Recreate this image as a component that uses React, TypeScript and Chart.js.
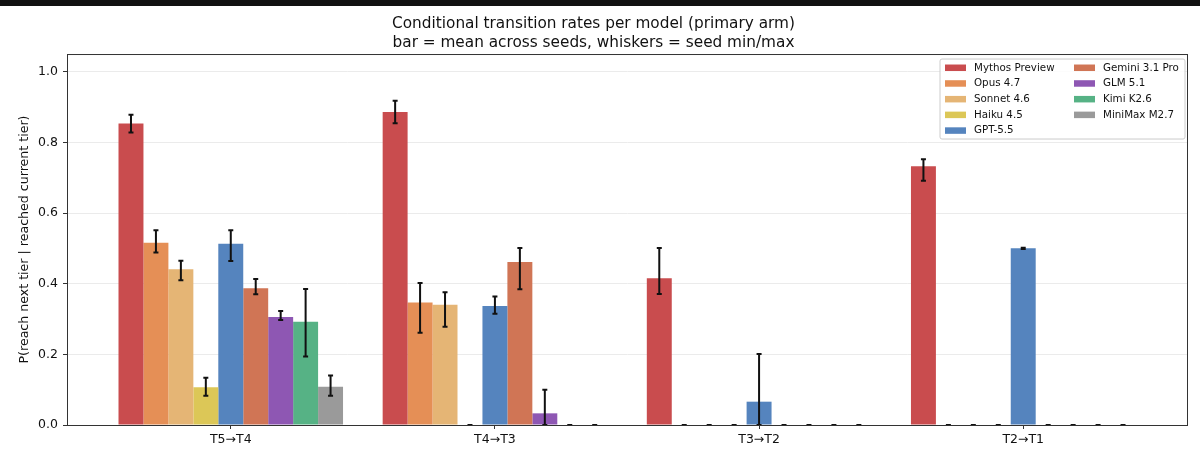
import { useEffect, useRef } from "react"
import { Chart, registerables } from "chart.js"

Chart.register(...registerables)

const FONT = "'DejaVu Sans', Verdana, sans-serif"

const categories = ["T5→T4", "T4→T3", "T3→T2", "T2→T1"]

const models = [
	"Mythos Preview",
	"Opus 4.7",
	"Sonnet 4.6",
	"Haiku 4.5",
	"GPT-5.5",
	"Gemini 3.1 Pro",
	"GLM 5.1",
	"Kimi K2.6",
	"MiniMax M2.7",
]

const colors = ["#c94c4e", "#e58f56", "#e5b575", "#dcc757", "#5584be", "#d07555", "#8e57b3", "#56b285", "#9a9a9a"]

// bar = mean across seeds, one row per model, one column per transition
const meanValues = [
	[0.853, 0.886, 0.415, 0.732],
	[0.516, 0.347, 0, 0],
	[0.441, 0.34, 0, 0],
	[0.107, 0, 0, 0],
	[0.513, 0.337, 0.066, 0.5],
	[0.387, 0.461, 0, 0],
	[0.306, 0.033, 0, 0],
	[0.292, 0, 0, 0],
	[0.108, 0, 0, 0],
]

// whiskers = seed min / max
const minValues = [
	[0.828, 0.854, 0.371, 0.691],
	[0.488, 0.261, 0, 0],
	[0.41, 0.278, 0, 0],
	[0.083, 0, 0, 0],
	[0.464, 0.315, 0, 0.498],
	[0.37, 0.384, 0, 0],
	[0.297, 0, 0, 0],
	[0.194, 0, 0, 0],
	[0.083, 0, 0, 0],
]

const maxValues = [
	[0.878, 0.918, 0.501, 0.752],
	[0.551, 0.402, 0, 0],
	[0.465, 0.376, 0, 0],
	[0.134, 0, 0, 0],
	[0.551, 0.364, 0.201, 0.502],
	[0.413, 0.501, 0, 0],
	[0.323, 0.1, 0, 0],
	[0.385, 0, 0, 0],
	[0.14, 0, 0, 0],
]

const yTicks = [0, 0.2, 0.4, 0.6, 0.8, 1.0]

const errorBars = {
	id: "errorBars",
	afterDatasetsDraw(chart: Chart) {
		const { ctx } = chart
		const y = chart.scales.y
		ctx.save()
		ctx.strokeStyle = "#111"
		ctx.lineWidth = 2
		chart.data.datasets.forEach((_, i) => {
			const meta = chart.getDatasetMeta(i)
			meta.data.forEach((bar: any, j: number) => {
				const x = bar.x
				const lo = y.getPixelForValue(minValues[i][j])
				const hi = y.getPixelForValue(maxValues[i][j])
				ctx.beginPath()
				ctx.moveTo(x, lo)
				ctx.lineTo(x, hi)
				ctx.moveTo(x - 2.5, lo)
				ctx.lineTo(x + 2.5, lo)
				ctx.moveTo(x - 2.5, hi)
				ctx.lineTo(x + 2.5, hi)
				ctx.stroke()
			})
		})
		ctx.restore()
	},
}

const frameAndLegend = {
	id: "frameAndLegend",
	afterDraw(chart: Chart) {
		const { ctx, chartArea } = chart
		ctx.save()
		// top and right spines
		ctx.strokeStyle = "#333"
		ctx.lineWidth = 1
		ctx.strokeRect(chartArea.left + 0.5, chartArea.top + 0.5, chartArea.right - chartArea.left, chartArea.bottom - chartArea.top)

		// legend, two columns, column-major
		const boxW = 245
		const boxH = 80
		const bx = chartArea.right - boxW - 2
		const by = chartArea.top + 5
		ctx.fillStyle = "rgba(255,255,255,0.85)"
		ctx.strokeStyle = "#cccccc"
		ctx.beginPath()
		ctx.roundRect(bx, by, boxW, boxH, 2)
		ctx.fill()
		ctx.stroke()

		ctx.font = `10.3px ${FONT}`
		ctx.textBaseline = "middle"
		const perCol = 5
		models.forEach((name, i) => {
			const col = Math.floor(i / perCol)
			const row = i % perCol
			const px = bx + 5 + col * 129
			const py = by + 8.5 + row * 15.7
			ctx.fillStyle = colors[i]
			ctx.fillRect(px, py - 3, 21, 6.5)
			ctx.fillStyle = "#111"
			ctx.fillText(name, px + 29, py + 0.5)
		})
		ctx.restore()
	},
}

export default function App() {
	const chartRef = useRef<HTMLCanvasElement>(null)
	const chartInstance = useRef<Chart | null>(null)

	useEffect(() => {
		document.body.style.margin = "0"
		if (!chartRef.current) return
		if (chartInstance.current) chartInstance.current.destroy()

		chartInstance.current = new Chart(chartRef.current, {
			type: "bar",
			data: {
				datasets: models.map((name, i) => ({
					label: name,
					data: meanValues[i].map((v, j) => ({ x: j, y: v })),
					backgroundColor: colors[i],
					borderWidth: 0,
					categoryPercentage: 0.85,
					barPercentage: 1,
				})),
			},
			options: {
				animation: false,
				responsive: true,
				maintainAspectRatio: false,
				layout: { padding: { left: 0, right: 13, top: 0, bottom: 0 } },
				plugins: {
					legend: { display: false },
					tooltip: { enabled: false },
					title: {
						display: true,
						text: ["Conditional transition rates per model (primary arm)", "bar = mean across seeds, whiskers = seed min/max"],
						color: "#111",
						font: { family: FONT, size: 15.3, weight: "normal", lineHeight: 1.2 },
						padding: { top: 15, bottom: 2.3 },
					},
				},
				scales: {
					x: {
						type: "linear",
						offset: false,
						min: -0.62,
						max: 3.62,
						afterBuildTicks: (s: any) => {
							s.ticks = categories.map((_, i) => ({ value: i }))
						},
						afterFit: (s: any) => {
							s.height = 33
						},
						ticks: {
							callback: (v: any) => categories[v] ?? "",
							color: "#111",
							font: { family: FONT, size: 12.5 },
							padding: 3,
							autoSkip: false,
							maxRotation: 0,
						},
						grid: { offset: false, drawOnChartArea: false, tickLength: 4, tickColor: "#333" },
						border: { color: "#333" },
					},
					y: {
						min: 0,
						max: 1.05,
						afterBuildTicks: (s: any) => {
							s.ticks = yTicks.map((v) => ({ value: v }))
						},
						afterFit: (s: any) => {
							s.width = 67
						},
						ticks: {
							callback: (v: any) => Number(v).toFixed(1),
							color: "#111",
							font: { family: FONT, size: 12.5 },
							padding: 5,
						},
						grid: { color: "#ebebeb", tickLength: 4, tickColor: "#333" },
						border: { color: "#333" },
						title: {
							display: true,
							text: "P(reach next tier | reached current tier)",
							color: "#111",
							font: { family: FONT, size: 12.6 },
							padding: { top: 17, bottom: 0 },
						},
					},
				},
			},
			plugins: [errorBars, frameAndLegend],
		})

		return () => {
			if (chartInstance.current) {
				chartInstance.current.destroy()
				chartInstance.current = null
			}
		}
	}, [])

	return (
		<div style={{ position: "relative", width: 1200, height: 458, background: "#fff" }}>
			<div style={{ position: "absolute", left: 0, top: 0, width: 1200, height: 6, background: "#111" }} />
			<canvas ref={chartRef}></canvas>
		</div>
	)
}
